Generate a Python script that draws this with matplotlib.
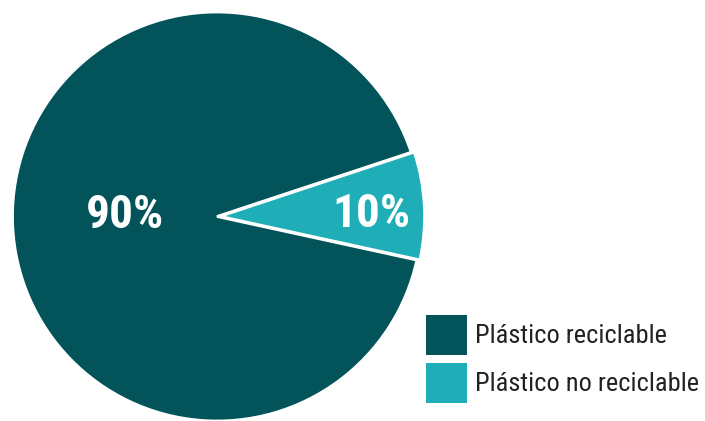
import matplotlib
matplotlib.use("Agg")
import matplotlib.pyplot as plt
from matplotlib.patches import Patch
import numpy as np

# ---- data ----
categories = ["Plástico reciclable", "Plástico no reciclable"]
shares = [91.5, 8.5]            # visual share of each slice as drawn
slice_labels = ["90%", "10%"]   # labels printed on the slices
colors = ["#02535A", "#1FAEB8"]

# ---- figure ----
W, H = 705, 421
fig = plt.figure(figsize=(W / 100, H / 100), dpi=100)
ax = fig.add_axes([0, 0, 1, 1])

cx, cy, R = 217, 216.5, 204.5  # pie centre / radius in pixels (from top-left)

wedges, _ = ax.pie(
    shares,
    colors=colors,
    startangle=-12.3,
    counterclock=False,
    explode=[0, 0.015],
    radius=1.0,
    wedgeprops=dict(edgecolor="white", linewidth=2.0, joinstyle="miter"),
)

ax.set_xlim(-cx / R, (W - cx) / R)
ax.set_ylim(-(H - cy) / R, cy / R)
ax.set_aspect("auto")
ax.axis("off")

label_dist = [0.45, 0.74]
label_dy = [0.03, -0.025]
for w, txt, d, dy in zip(wedges, slice_labels, label_dist, label_dy):
    ang = np.deg2rad((w.theta1 + w.theta2) / 2)
    x0, y0 = w.center
    ax.text(x0 + d * np.cos(ang), y0 + d * np.sin(ang) + dy, txt,
            ha="center", va="center", color="white",
            fontsize=34, fontweight="bold", family="Roboto Condensed")

handles = [Patch(facecolor=c, edgecolor="none") for c in colors]
fs = 19
fig.legend(
    handles, categories,
    loc="upper left",
    bbox_to_anchor=(426 / W, 1 - 315 / H),
    bbox_transform=fig.transFigure,
    frameon=False,
    borderpad=0, borderaxespad=0,
    handlelength=29.5 / fs, handleheight=1.95,
    handletextpad=0.30, labelspacing=0.30,
    prop=dict(family="Roboto Condensed", size=fs),
    labelcolor="#222222",
)

fig.savefig("out.png", dpi=100)
